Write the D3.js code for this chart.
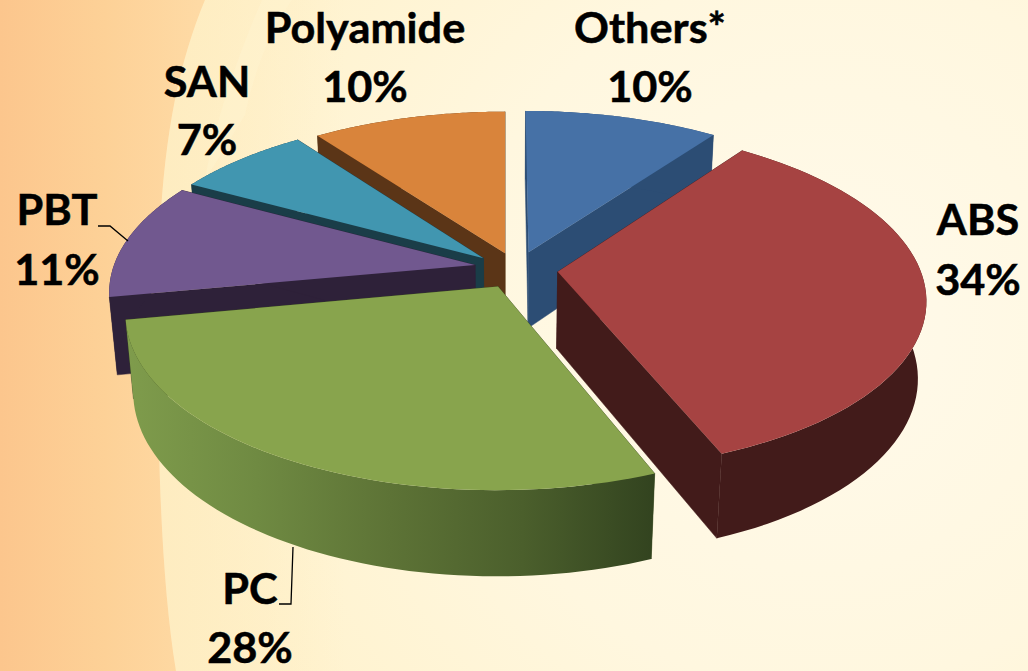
<!DOCTYPE html>
<html><head><meta charset="utf-8">
<script src="https://cdn.jsdelivr.net/npm/d3@7"></script>
<style>html,body{margin:0;padding:0;overflow:hidden;background:#fff}svg{display:block}text{font-family:Lato,"Open Sans",sans-serif;font-weight:700;fill:#000;stroke:#000;stroke-width:0.5px}</style>
</head><body><svg id="c" width="1028" height="671"></svg>
<script>
const categories = ["Others*","ABS","PC","PBT","SAN","Polyamide"];
const shares = [10,34,28,11,7,10];
const topColors = ["#4671a6","#a64342","#88a44d","#71588f","#4196b0","#d9843b"];
const sideColors = ["#2c4d74","#421b1a","#6f8a42","#2e2139","#1a3d48","#5b3517"];
const explodeX = [0.066,0.145,-0.019,-0.083,-0.06,0];
const explodeY = [0.095,-0.023,-0.109,0.018,0.059,0.089];
const labelX = [650,978,250,57,207,365];
const labelY = [43,235,604,225,97,43];
const lineGap = [59,60,59,60,58,59];
const drawOrder = [0,5,4,3,1,2];

const W=1028,H=671;
const svg=d3.select("#c");
const defs=svg.append("defs");
const bg=defs.append("radialGradient").attr("id","bg").attr("gradientUnits","userSpaceOnUse").attr("cx",820).attr("cy",330).attr("r",720);
[[0,"#fffaeb"],[0.5,"#fff7df"],[1,"#fff1c8"]].forEach(s=>bg.append("stop").attr("offset",s[0]).attr("stop-color",s[1]));
const or=defs.append("linearGradient").attr("id","or").attr("gradientUnits","userSpaceOnUse").attr("x1",0).attr("x2",210).attr("y1",0).attr("y2",0);
[[0,"#fcc68d"],[0.5,"#fdd197"],[1,"#fedba6"]].forEach(s=>or.append("stop").attr("offset",s[0]).attr("stop-color",s[1]));
const cream=defs.append("linearGradient").attr("id","cream").attr("gradientUnits","userSpaceOnUse").attr("x1",155).attr("x2",345).attr("y1",0).attr("y2",0);
cream.append("stop").attr("offset",0).attr("stop-color","#feecc0").attr("stop-opacity",1);
cream.append("stop").attr("offset",1).attr("stop-color","#feecc0").attr("stop-opacity",0);
const pcG=defs.append("linearGradient").attr("id","pcRim").attr("gradientUnits","userSpaceOnUse").attr("x1",125).attr("x2",655).attr("y1",0).attr("y2",0);
[[0,"#7f9c4c"],[0.25,"#6f8a42"],[0.5,"#5d7336"],[0.75,"#4b5f2c"],[1,"#32431f"]].forEach(s=>pcG.append("stop").attr("offset",s[0]).attr("stop-color",s[1]));

svg.append("rect").attr("width",W).attr("height",H).attr("fill","url(#bg)");
svg.append("path").attr("fill","url(#cream)").attr("d","M205 0C180 60 165 130 160 230C156 400 158 560 176 671L345 671L345 0Z");
svg.append("path").attr("fill","#fff3d0").attr("opacity",0.45).attr("d","M292 0C270 30 255 70 245 115L205 180C215 120 240 50 262 0Z");
svg.append("path").attr("fill","url(#or)").attr("d","M0 0L205 0C180 60 165 130 160 230C156 400 158 560 176 671L0 671Z");

// perspective projection of the unit pie
const cx=505,cy=268,R=362,Rk=167,Depth=78,persp=0.15,pinch=0.02;
function project(x,y,d){const w=1+persp*y+pinch*d;return [cx+R*x/w, cy+(-Rk*y+Depth*d)/w];}
const arcs=d3.pie().sort(null).value(d=>d).startAngle(0).endAngle(2*Math.PI)(shares);
const line=d3.line();
const g=svg.append("g");
drawOrder.forEach(i=>{
  const a=arcs[i], ox=explodeX[i], oy=explodeY[i];
  const steps=d3.range(0,61).map(t=>a.startAngle+(a.endAngle-a.startAngle)*t/60);
  const pt=(ang,d)=>project(ox+Math.sin(ang),oy+Math.cos(ang),d);
  const apex=d=>project(ox,oy,d);
  const side=i===2?"url(#pcRim)":sideColors[i];
  const faceFill=i===2?"#3a4a22":sideColors[i];
  const G=g.append("g");
  [a.startAngle,a.endAngle].forEach(ang=>{
    G.append("path").attr("fill",faceFill).attr("stroke",faceFill).attr("stroke-width",0.5)
     .attr("d",line([apex(0),pt(ang,0),pt(ang,1),apex(1)])+"Z");
  });
  G.append("path").attr("fill",side).attr("d",line(steps.map(s=>pt(s,0)).concat(steps.slice().reverse().map(s=>pt(s,1))))+"Z");
  G.append("path").attr("fill",topColors[i]).attr("d",line([apex(0)].concat(steps.map(s=>pt(s,0))))+"Z");
});

// leaders
svg.append("path").attr("fill","none").attr("stroke","#000").attr("stroke-width",1.3)
  .attr("d",line([[98,226],[110,226],[128,241]]));
svg.append("path").attr("fill","none").attr("stroke","#000").attr("stroke-width",1.3)
  .attr("d",line([[279,604],[291,604],[293,547]]));

const lab=svg.append("g").attr("text-anchor","middle").style("font-size","42px");
function put(txt,x,y){lab.append("text").attr("transform",`translate(${x},${y}) scale(1.03,1)`).text(txt);}
categories.forEach((c,i)=>{
  put(c,labelX[i],labelY[i]);
  put(shares[i]+"%",labelX[i],labelY[i]+lineGap[i]);
});
</script></body></html>
